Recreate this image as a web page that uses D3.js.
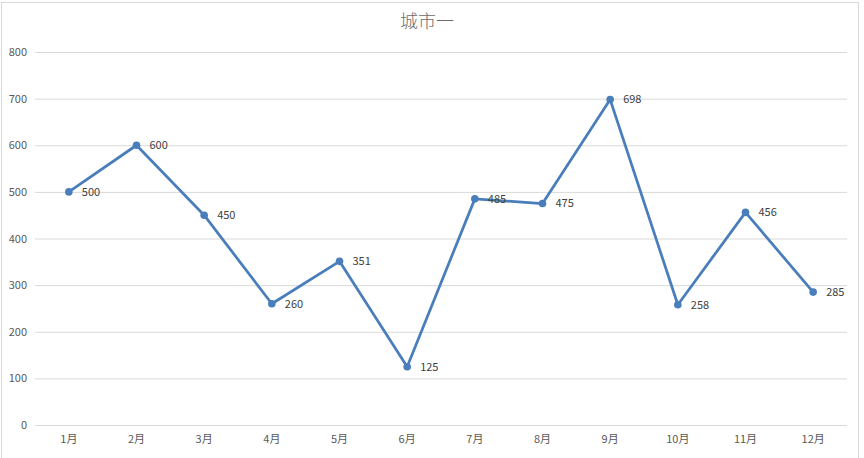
<!DOCTYPE html>
<html>
<head>
<meta charset="utf-8">
<script src="https://cdn.jsdelivr.net/npm/d3@7"></script>
<style>
body{margin:0;background:#fff;}
text{font-family:"Noto Sans CJK SC","Noto Sans",sans-serif;}
</style>
</head>
<body>
<script>
var months=["1月","2月","3月","4月","5月","6月","7月","8月","9月","10月","11月","12月"];
var values=[500,600,450,260,351,125,485,475,698,258,456,285];
var yTicks=[0,100,200,300,400,500,600,700,800];
var title="城市一";

var width=864, height=458;
var plotLeft=35, plotRight=847, plotTop=52, plotBottom=425;

var svg=d3.select("body").append("svg").attr("width",width).attr("height",height);

// chart frame
svg.append("rect").attr("x",1.5).attr("y",2.5).attr("width",857).attr("height",470).
	attr("fill","none").attr("stroke","#d9d9d9");

var x=d3.scaleBand().domain(months).range([plotLeft,plotRight]);
var y=d3.scaleLinear().domain([0,800]).range([plotBottom,plotTop]);

function cx(i) {
	return x(months[i])+x.bandwidth()/2;
}

svg.append("text").attr("x",427).attr("y",28).attr("text-anchor","middle").
	attr("fill","#6b6b6b").style("font-size","18px").style("font-weight","300").text(title);

var yAxis=svg.append("g").attr("transform","translate("+plotLeft+",0)").
	call(d3.axisLeft(y).tickValues(yTicks).tickSize(-(plotRight-plotLeft)).tickPadding(8));
yAxis.select(".domain").remove();
yAxis.selectAll("line").attr("stroke","#d9d9d9");
yAxis.selectAll("text").attr("fill","#595959").style("font-size","11px");

var xAxis=svg.append("g").attr("transform","translate(0,"+plotBottom+")").
	call(d3.axisBottom(x).tickSize(0).tickPadding(10));
xAxis.select(".domain").remove();
xAxis.selectAll("text").attr("fill","#595959").style("font-size","11px");

var line=d3.line().
	x(function(d,i){return cx(i)}).
	y(function(d){return y(d)});

svg.append("path").datum(values).attr("d",line).
	attr("fill","none").attr("stroke","#4a7ebb").attr("stroke-width",2.75).
	attr("stroke-linejoin","round");

svg.selectAll(".dot").data(values).enter().append("circle").
	attr("cx",function(d,i){return cx(i)}).
	attr("cy",function(d){return y(d)}).
	attr("r",3.8).attr("fill","#4a7ebb");

svg.selectAll(".lbl").data(values).enter().append("text").
	attr("x",function(d,i){return cx(i)+13}).
	attr("y",function(d){return y(d)}).
	attr("dy","0.35em").
	attr("fill","#404040").style("font-size","11px").
	text(function(d){return d});
</script>
</body>
</html>
